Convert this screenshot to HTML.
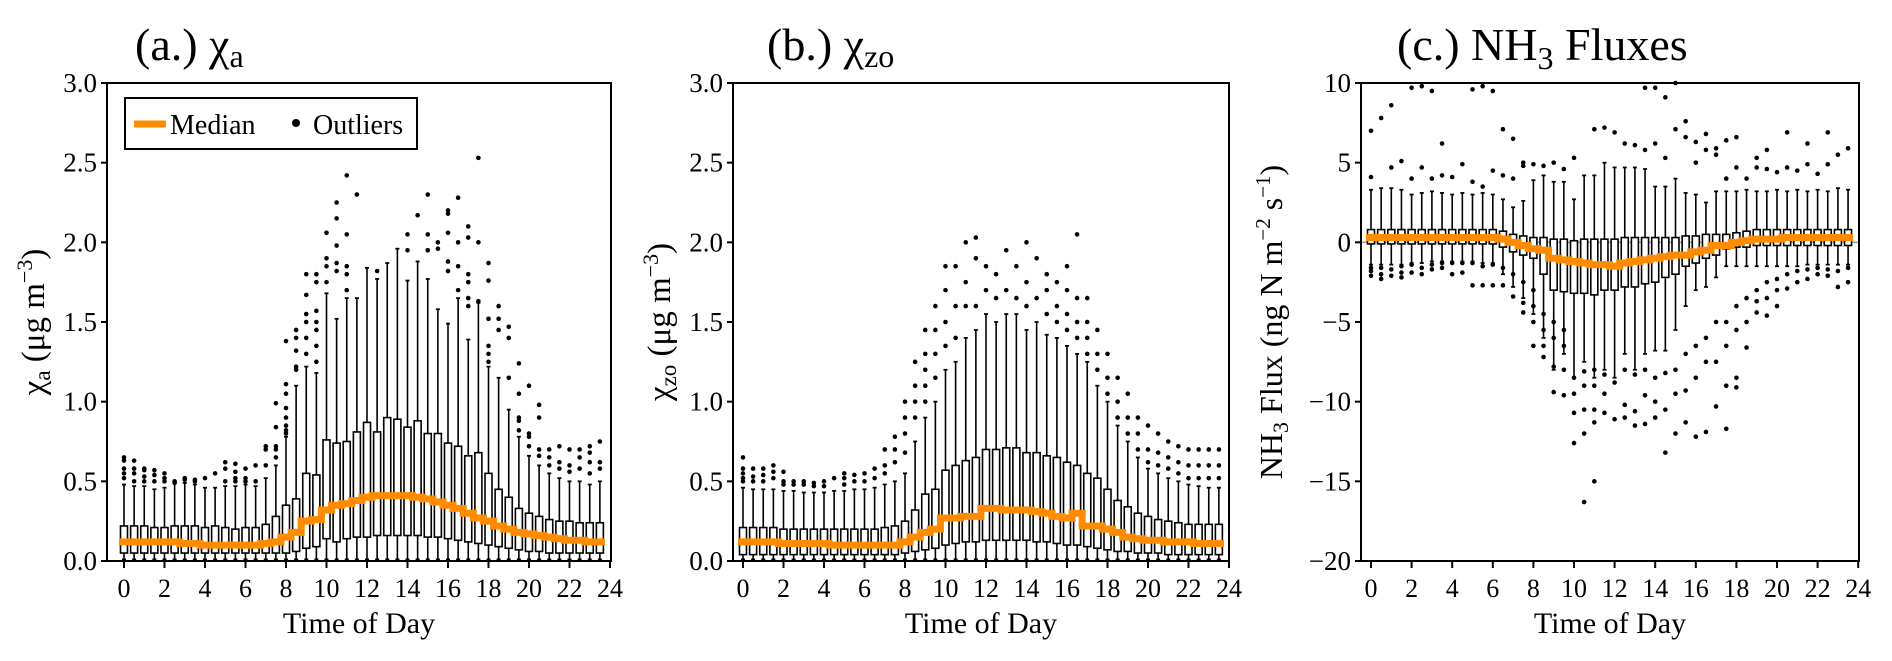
<!DOCTYPE html>
<html><head><meta charset="utf-8">
<style>
html,body{margin:0;padding:0;background:#fff;}
svg{display:block;font-family:"Liberation Serif",serif;}
</style></head>
<body>
<svg id="chart" width="1892" height="661" viewBox="0 0 1892 661" xmlns="http://www.w3.org/2000/svg"></svg>
<script>
// ---------- data ----------
const hours = [0,0.5,1,1.5,2,2.5,3,3.5,4,4.5,5,5.5,6,6.5,7,7.5,8,8.5,9,9.5,10,10.5,11,11.5,12,12.5,13,13.5,14,14.5,15,15.5,16,16.5,17,17.5,18,18.5,19,19.5,20,20.5,21,21.5,22,22.5,23,23.5];
const xTicks = [0,2,4,6,8,10,12,14,16,18,20,22,24];

// Panel a: chi_a
const medA = [0.12,0.12,0.12,0.12,0.12,0.12,0.11,0.11,0.10,0.10,0.10,0.10,0.10,0.10,0.11,0.12,0.15,0.18,0.25,0.26,0.32,0.35,0.36,0.38,0.40,0.41,0.41,0.41,0.41,0.40,0.39,0.37,0.35,0.33,0.30,0.27,0.25,0.22,0.20,0.18,0.17,0.16,0.15,0.14,0.13,0.13,0.12,0.12];
const q1A = [0.05,0.05,0.05,0.05,0.05,0.05,0.05,0.05,0.05,0.05,0.05,0.05,0.05,0.05,0.05,0.05,0.05,0.06,0.08,0.09,0.14,0.12,0.14,0.15,0.15,0.16,0.16,0.16,0.16,0.16,0.15,0.15,0.14,0.13,0.12,0.11,0.10,0.09,0.08,0.07,0.06,0.06,0.05,0.05,0.05,0.05,0.05,0.05];
const q3A = [0.22,0.22,0.22,0.21,0.21,0.22,0.22,0.22,0.21,0.22,0.21,0.20,0.21,0.21,0.23,0.28,0.35,0.39,0.55,0.54,0.76,0.74,0.75,0.81,0.87,0.81,0.90,0.89,0.84,0.88,0.80,0.80,0.74,0.72,0.66,0.68,0.55,0.45,0.40,0.33,0.30,0.28,0.26,0.25,0.25,0.24,0.24,0.24];
const hiA = [0.48,0.47,0.47,0.45,0.46,0.49,0.49,0.48,0.46,0.46,0.47,0.47,0.48,0.47,0.52,0.60,0.78,1.10,1.22,1.18,1.68,1.52,1.65,1.65,1.84,1.77,1.87,1.96,1.76,1.88,1.77,1.58,1.49,1.65,1.39,1.62,1.22,1.15,0.95,0.78,0.66,0.60,0.55,0.52,0.50,0.50,0.48,0.50];
const loA = [0.01,0.01,0.01,0.01,0.01,0.01,0.01,0.01,0.01,0.01,0.01,0.01,0.01,0.01,0.01,0.01,0.01,0.01,0.01,0.01,0.01,0.01,0.01,0.01,0.01,0.01,0.01,0.01,0.01,0.01,0.01,0.01,0.01,0.01,0.01,0.01,0.01,0.01,0.01,0.01,0.01,0.01,0.01,0.01,0.01,0.01,0.01,0.01];
const outA = [[0.52,0.55,0.58,0.63,0.65],[0.5,0.55,0.58,0.63],[0.5,0.53,0.57,0.58],[0.5,0.54,0.57],[0.5,0.52,0.55],[0.49,0.5],[0.51,0.52],[0.5,0.51],[0.52],[0.55],[0.5,0.58,0.62],[0.5,0.52,0.56,0.61],[0.5,0.52,0.58],[0.5,0.6],[0.6,0.7,0.72],[0.65,0.7,0.72,0.84,0.99],[0.8,0.82,0.85,0.9,0.96,1.05,1.11,1.38],[1.2,1.22,1.32,1.4,1.45],[1.3,1.4,1.5,1.55,1.67,1.8],[1.25,1.35,1.45,1.5,1.57,1.75,1.8],[1.75,1.85,1.9,2.06],[1.82,1.87,1.98,2.15,2.25],[1.7,1.8,1.85,2.05,2.42],[2.3],[],[1.82],[],[],[1.95,2.05],[2.17],[1.95,2.05,2.3],[1.96,2.0],[1.82,1.88,2.06,2.18,2.2],[1.7,1.85,2.0,2.28],[1.6,1.65,1.75,1.8,2.03,2.1],[1.63,2.0,2.53],[1.25,1.3,1.35,1.52,1.76,1.87],[1.45,1.52,1.6],[1.15,1.4,1.47],[0.82,0.88,0.9,1.05,1.24],[0.72,0.78,0.8,1.1],[0.66,0.7,0.9,0.98],[0.6,0.65,0.7],[0.58,0.62,0.72],[0.56,0.6,0.7],[0.58,0.65,0.7],[0.55,0.62,0.68,0.72],[0.58,0.62,0.75]];

// Panel b: chi_zo
const medB = [0.12,0.12,0.12,0.12,0.11,0.11,0.11,0.11,0.11,0.10,0.10,0.10,0.10,0.10,0.10,0.10,0.12,0.15,0.18,0.20,0.27,0.27,0.28,0.28,0.33,0.33,0.32,0.32,0.32,0.31,0.30,0.28,0.27,0.30,0.22,0.22,0.20,0.18,0.15,0.14,0.13,0.13,0.12,0.12,0.12,0.11,0.11,0.11];
const q1B = [0.04,0.04,0.04,0.04,0.04,0.04,0.04,0.04,0.04,0.04,0.04,0.04,0.04,0.04,0.04,0.04,0.05,0.06,0.07,0.08,0.10,0.11,0.12,0.12,0.13,0.13,0.13,0.13,0.13,0.12,0.12,0.11,0.10,0.10,0.09,0.08,0.07,0.06,0.06,0.05,0.05,0.05,0.04,0.04,0.04,0.04,0.04,0.04];
const q3B = [0.21,0.21,0.21,0.21,0.20,0.20,0.20,0.20,0.20,0.20,0.20,0.20,0.20,0.20,0.21,0.22,0.25,0.32,0.42,0.45,0.57,0.60,0.63,0.65,0.70,0.70,0.71,0.71,0.68,0.68,0.66,0.65,0.62,0.60,0.55,0.52,0.45,0.38,0.34,0.30,0.28,0.26,0.25,0.24,0.23,0.23,0.23,0.23];
const hiB = [0.46,0.45,0.45,0.45,0.44,0.44,0.43,0.43,0.43,0.44,0.44,0.45,0.45,0.46,0.48,0.50,0.55,0.75,0.90,1.00,1.20,1.25,1.40,1.45,1.55,1.50,1.55,1.55,1.45,1.50,1.42,1.40,1.35,1.30,1.25,1.10,1.00,0.85,0.75,0.65,0.58,0.55,0.52,0.50,0.48,0.47,0.46,0.46];
const loB = [0.01,0.01,0.01,0.01,0.01,0.01,0.01,0.01,0.01,0.01,0.01,0.01,0.01,0.01,0.01,0.01,0.01,0.01,0.01,0.01,0.01,0.01,0.01,0.01,0.01,0.01,0.01,0.01,0.01,0.01,0.01,0.01,0.01,0.01,0.01,0.01,0.01,0.01,0.01,0.01,0.01,0.01,0.01,0.01,0.01,0.01,0.01,0.01];
const outB = [[0.5,0.52,0.55,0.58,0.65],[0.5,0.53,0.58],[0.5,0.54,0.58],[0.52,0.56,0.6],[0.48,0.5,0.56],[0.48,0.5],[0.48,0.5],[0.47,0.49],[0.47,0.5],[0.52],[0.48,0.52,0.55],[0.5,0.54],[0.5,0.55],[0.52,0.58],[0.55,0.6,0.7],[0.62,0.7,0.78],[0.68,0.8,0.9,1.0],[0.9,1.0,1.1,1.25],[1.0,1.1,1.2,1.3,1.45],[1.15,1.3,1.45,1.6],[1.35,1.5,1.7,1.85],[1.4,1.6,1.85],[1.6,1.75,2.0],[1.6,1.9,2.03],[1.7,1.85],[1.65,1.8],[1.7,1.95],[1.65,1.85],[1.6,1.75,2.0],[1.65,1.9],[1.55,1.7,1.8],[1.5,1.6,1.75],[1.45,1.55,1.7,1.85],[1.4,1.5,1.65,2.05],[1.3,1.4,1.5,1.65],[1.2,1.3,1.45],[1.05,1.15,1.3],[0.9,1.0,1.15],[0.8,0.9,1.05],[0.7,0.8,0.9],[0.62,0.7,0.85],[0.6,0.68,0.8],[0.58,0.65,0.75],[0.55,0.62,0.72],[0.52,0.6,0.7],[0.52,0.6,0.7],[0.52,0.6,0.7],[0.52,0.6,0.7]];

// Panel c: NH3 flux
const medC = [0.3,0.3,0.3,0.3,0.3,0.3,0.3,0.3,0.3,0.3,0.3,0.3,0.3,0.2,0.0,-0.2,-0.4,-0.5,-1.0,-1.1,-1.2,-1.3,-1.4,-1.4,-1.5,-1.3,-1.2,-1.1,-1.0,-0.9,-0.8,-0.8,-0.6,-0.5,-0.2,-0.2,0.0,0.1,0.2,0.2,0.2,0.3,0.3,0.3,0.3,0.3,0.3,0.3];
const q1C = [-0.1,-0.1,-0.1,-0.1,-0.1,-0.1,-0.1,-0.1,-0.1,-0.1,-0.1,-0.1,-0.1,-0.3,-0.6,-0.8,-1.0,-2.0,-3.0,-3.1,-3.2,-3.2,-3.3,-3.0,-3.0,-2.8,-2.8,-2.6,-2.5,-2.2,-2.0,-1.5,-1.3,-1.0,-0.8,-0.4,-0.3,-0.3,-0.2,-0.2,-0.2,-0.2,-0.2,-0.2,-0.2,-0.2,-0.2,-0.2];
const q3C = [0.8,0.8,0.8,0.8,0.8,0.8,0.8,0.8,0.8,0.8,0.8,0.8,0.8,0.7,0.5,0.4,0.3,0.3,0.2,0.2,0.1,0.2,0.2,0.2,0.2,0.3,0.3,0.3,0.3,0.3,0.3,0.4,0.4,0.5,0.5,0.5,0.6,0.7,0.8,0.8,0.8,0.8,0.8,0.8,0.8,0.8,0.8,0.8];
const hiC = [3.3,3.4,3.4,3.3,3.0,3.1,3.2,3.1,3.0,3.1,3.0,3.1,3.0,2.7,2.2,2.6,3.9,4.2,3.8,3.8,2.7,4.2,4.2,5.0,4.7,4.7,4.7,4.6,3.5,3.5,4.0,3.1,3.0,2.5,3.2,3.2,3.2,3.3,3.2,3.2,3.3,3.2,3.3,3.2,3.3,3.2,3.4,3.3];
const loC = [-1.4,-1.4,-1.4,-1.4,-1.3,-1.3,-1.2,-1.2,-1.2,-1.2,-1.2,-1.3,-1.3,-2.0,-2.8,-3.5,-4.5,-6.0,-8.0,-7.0,-8.5,-7.5,-8.5,-8.0,-8.5,-7.0,-8.0,-7.0,-6.8,-6.8,-5.5,-4.0,-3.0,-2.8,-2.2,-1.5,-1.5,-1.5,-1.5,-1.5,-1.5,-1.5,-1.5,-1.4,-1.4,-1.4,-1.4,-1.4];
const outC = [[4.1,7.0,-1.6,-1.8,-2.1],[7.8,-1.6,-2.0,-2.3],[4.7,8.6,-1.7,-2.1],[5.1,-1.5,-1.9,-2.2],[4.0,9.7,-1.4,-1.9],[4.7,9.8,-1.6,-2.0],[4.0,9.5,-1.4,-1.7],[4.2,6.2,-1.3,-1.6],[4.1,-1.3,-2.0],[4.9,-1.3,-1.9],[3.8,9.6,-1.3,-2.7],[3.5,9.8,-1.5,-2.7],[4.5,9.5,-1.4,-2.7],[4.2,7.1,-1.6,-2.7],[4.0,6.5,-2.0,-3.4],[4.8,5.0,-2.5,-3.8,-4.4],[4.9,-3.0,-4.0,-5.0,-6.5],[4.8,-4.5,-5.5,-6.5,-7.2],[5.0,-5.0,-6.0,-7.8,-9.4],[4.6,-5.5,-6.5,-8.0,-9.6],[5.3,-8.5,-9.5,-10.7,-12.6],[-8.1,-9.0,-10.5,-12.0,-16.3],[7.1,-8.0,-9.0,-10.5,-11.3,-15.0],[7.2,-8.3,-9.5,-10.7],[6.9,-8.8,-11.1],[6.2,-8.0,-10.2,-11.0],[6.1,-8.3,-10.6,-11.5],[5.8,9.7,-8.0,-9.6,-11.4],[6.2,9.7,-8.5,-10.0,-11.0],[5.3,9.1,-8.2,-10.5,-13.2],[7.1,10.0,-8.0,-9.5,-12.0],[7.6,6.6,-7.0,-9.3,-11.3],[5.0,6.3,-6.5,-8.5,-12.2],[6.8,5.8,-6.0,-7.5,-11.9],[5.9,5.5,-5.0,-7.5,-10.3],[4.0,6.4,-5.0,-6.5,-9.0,-11.7],[4.7,6.6,-4.0,-5.5,-8.5,-9.1],[4.0,-3.5,-5.0,-6.6],[4.7,5.3,-3.0,-3.7,-4.4],[4.6,5.8,-2.5,-3.5,-4.6],[4.4,-2.3,-3.0,-4.0],[4.7,6.9,-2.0,-2.9],[4.5,-1.8,-2.5],[4.9,6.2,-1.7,-2.3],[4.3,-1.6,-2.0],[4.9,6.9,-1.7,-2.1],[5.5,-1.8,-2.8],[5.9,-1.6,-2.5]];

const yTicksA = [0.0,0.5,1.0,1.5,2.0,2.5,3.0];
const yTickLabelsA = ["0.0","0.5","1.0","1.5","2.0","2.5","3.0"];
const yTicksC = [-20,-15,-10,-5,0,5,10];
const yTickLabelsC = ["−20","−15","−10","−5","0","5","10"];

// ---------- drawing ----------
const NS = "http://www.w3.org/2000/svg";
const svg = document.getElementById("chart");
function mk(tag, attrs, parent){
  const e = document.createElementNS(NS, tag);
  for (const k in attrs) e.setAttribute(k, attrs[k]);
  (parent||svg).appendChild(e);
  return e;
}
const ORANGE = "#ff8c00";

function panel(cfg){
  const g = mk("g", {});
  
  
  const xs = h => cfg.x0 + h * cfg.ph;
  const ys = v => cfg.bottom - (v - cfg.vmin) / (cfg.vmax - cfg.vmin) * (cfg.bottom - cfg.top);
  if (cfg.zero) {
    const zl = mk("line", {x1:cfg.left, x2:cfg.right, y1:ys(0), y2:ys(0), stroke:"#999", "stroke-width":1.5}, g);
    
    
  }
  const bw = 7, cap = 4;
  for (let i = 0; i < hours.length; i++) {
    const x = xs(hours[i]);
    const bg = mk("g", {}, g);
    
    
    mk("line", {x1:x, x2:x, y1:ys(cfg.q3[i]), y2:ys(cfg.hi[i]), stroke:"#000", "stroke-width":1.6}, bg);
    mk("line", {x1:x, x2:x, y1:ys(cfg.q1[i]), y2:ys(cfg.lo[i]), stroke:"#000", "stroke-width":1.6}, bg);
    mk("line", {x1:x-cap/2, x2:x+cap/2, y1:ys(cfg.hi[i]), y2:ys(cfg.hi[i]), stroke:"#000", "stroke-width":1.8}, bg);
    mk("line", {x1:x-cap/2, x2:x+cap/2, y1:ys(cfg.lo[i]), y2:ys(cfg.lo[i]), stroke:"#000", "stroke-width":1.8}, bg);
    mk("rect", {x:x-bw/2, y:ys(cfg.q3[i]), width:bw, height:Math.max(1, ys(cfg.q1[i]) - ys(cfg.q3[i])), fill:"#fff", stroke:"#000", "stroke-width":1.6}, bg);
    for (const o of cfg.out[i]) {
      if (o > cfg.vmax || o < cfg.vmin) continue;
      const d = mk("circle", {cx:x, cy:ys(o), r:2.3, fill:"#000"}, bg);
      
      
    }
  }
  let pts = "";
  for (let i = 0; i < hours.length; i++) {
    const x = xs(hours[i]);
    pts += (x - cfg.ph/4) + "," + ys(cfg.med[i]) + " " + (x + cfg.ph/4) + "," + ys(cfg.med[i]) + " ";
  }
  const ml = mk("polyline", {points:pts, fill:"none", stroke:ORANGE, "stroke-width":7}, g);
  
  
  const fr = mk("rect", {x:cfg.left, y:cfg.top, width:cfg.right-cfg.left, height:cfg.bottom-cfg.top, fill:"none", stroke:"#000", "stroke-width":2}, g);
  
  
  for (let k = 0; k < cfg.yt.length; k++) {
    const y = ys(cfg.yt[k]);
    mk("line", {x1:cfg.left-6, x2:cfg.left, y1:y, y2:y, stroke:"#000", "stroke-width":2}, g);
    const t = mk("text", {x:cfg.left-10, y:y+9, "text-anchor":"end", "font-size":27}, g);
    t.textContent = cfg.ytl[k];
    
    
  }
  for (const h of xTicks) {
    const x = xs(h);
    mk("line", {x1:x, x2:x, y1:cfg.bottom, y2:cfg.bottom+7, stroke:"#000", "stroke-width":2}, g);
    const t = mk("text", {x:x, y:597, "text-anchor":"middle", "font-size":26}, g);
    t.textContent = String(h);
    
    
  }
  const xl = mk("text", {x:(cfg.left+cfg.right)/2, y:633, "text-anchor":"middle", "font-size":30}, g);
  xl.textContent = "Time of Day";
  
  
}

panel({name:"panel-a-chi-a", x0:124, ph:20.25, left:107, right:611, top:83, bottom:561, vmin:0, vmax:3,
  med:medA, q1:q1A, q3:q3A, hi:hiA, lo:loA, out:outA, yt:yTicksA, ytl:yTickLabelsA});
panel({name:"panel-b-chi-zo", x0:743, ph:20.25, left:733, right:1229, top:83, bottom:561, vmin:0, vmax:3,
  med:medB, q1:q1B, q3:q3B, hi:hiB, lo:loB, out:outB, yt:yTicksA, ytl:yTickLabelsA});
panel({name:"panel-c-nh3-flux", x0:1371, ph:20.3, left:1361, right:1859, top:83, bottom:561, vmin:-20, vmax:10, zero:true,
  med:medC, q1:q1C, q3:q3C, hi:hiC, lo:loC, out:outC, yt:yTicksC, ytl:yTickLabelsC});
</script>

<svg style="position:absolute;left:0;top:0" width="1892" height="661" viewBox="0 0 1892 661" xmlns="http://www.w3.org/2000/svg" font-family="Liberation Serif, serif">
  <text x="135" y="60" font-size="46">(a.) χ<tspan font-size="32" dy="7">a</tspan></text>
  <text x="767" y="60" font-size="46">(b.) χ<tspan font-size="32" dy="7">zo</tspan></text>
  <text x="1397" y="60" font-size="46">(c.) NH<tspan font-size="32" dy="9">3</tspan><tspan dy="-9"> Fluxes</tspan></text>

  <text transform="translate(44,322) rotate(-90)" text-anchor="middle" font-size="33">χ<tspan font-size="23" dy="6">a</tspan><tspan dy="-6"> (μg m</tspan><tspan font-size="22" dy="-12">−3</tspan><tspan dy="12">)</tspan></text>
  <text transform="translate(670,322) rotate(-90)" text-anchor="middle" font-size="33">χ<tspan font-size="23" dy="6">zo</tspan><tspan dy="-6"> (μg m</tspan><tspan font-size="22" dy="-12">−3</tspan><tspan dy="12">)</tspan></text>
  <text transform="translate(1282,322) rotate(-90)" text-anchor="middle" font-size="32">NH<tspan font-size="22" dy="6">3</tspan><tspan dy="-6"> Flux (ng N m</tspan><tspan font-size="21" dy="-12">−2</tspan><tspan dy="12"> s</tspan><tspan font-size="21" dy="-12">−1</tspan><tspan dy="12">)</tspan></text>

  <g>
    <rect x="125" y="98" width="292" height="51" fill="#fff" stroke="#000" stroke-width="2"/>
    <line x1="134" x2="166" y1="124" y2="124" stroke="#ff8c00" stroke-width="7"/>
    <text x="170" y="134" font-size="28">Median</text>
    <circle cx="296" cy="123" r="4" fill="#000"/>
    <text x="313" y="134" font-size="28">Outliers</text>
  </g>
</svg>
</body></html>
